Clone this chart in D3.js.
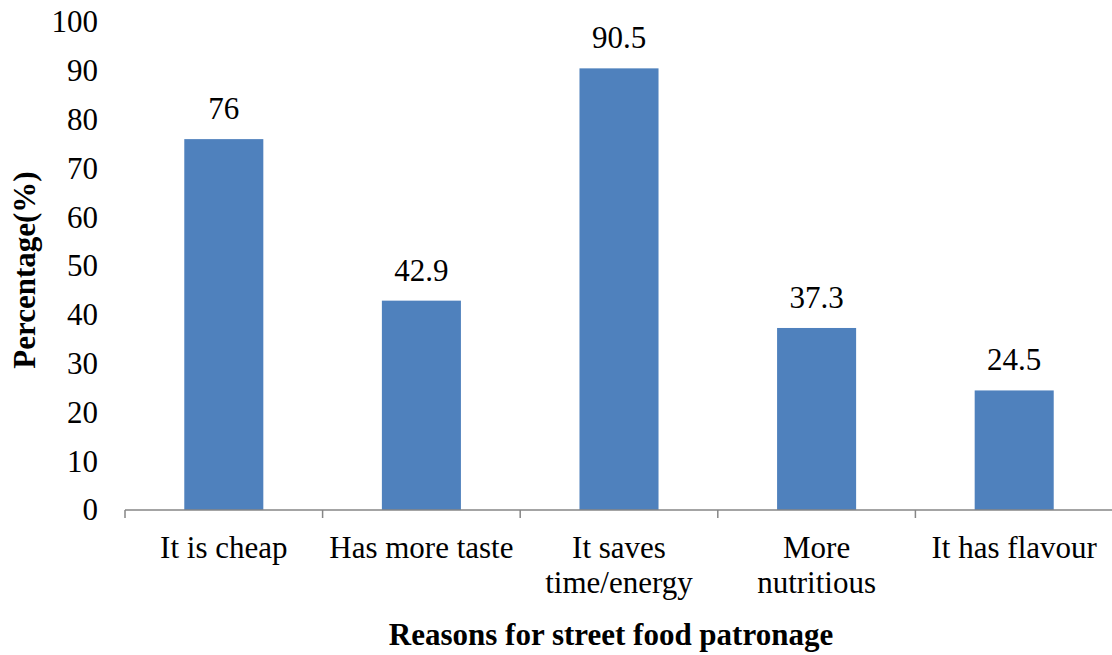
<!DOCTYPE html>
<html>
<head>
<meta charset="utf-8">
<script src="https://cdn.jsdelivr.net/npm/d3@7"></script>
<style>
  html, body { margin: 0; padding: 0; background: #fff; }
  svg { display: block; }
  text { font-family: "Liberation Serif", "Times New Roman", serif; fill: #000; }
</style>
</head>
<body>
<svg id="chart" width="1112" height="655"></svg>
<script>
// Reasons for street food patronage (percentage of respondents)
const categories = [
  ["It is cheap"],
  ["Has more taste"],
  ["It saves", "time/energy"],
  ["More", "nutritious"],
  ["It has flavour"]
];
const values = [76, 42.9, 90.5, 37.3, 24.5];
const yTicks = [0, 10, 20, 30, 40, 50, 60, 70, 80, 90, 100];

const svg = d3.select("#chart");
const FS = "31px";

const keys = categories.map(c => c.join(" "));
const x = d3.scaleBand()
  .domain(keys)
  .range([125, 1113])
  .paddingInner(0.6)
  .paddingOuter(0.3);
const y = d3.scaleLinear().domain([0, 100]).range([510, 22]);

// y tick labels (no axis line)
const yAxis = svg.append("g")
  .attr("transform", "translate(125,0)")
  .call(d3.axisLeft(y).tickValues(yTicks).tickSize(0).tickPadding(27));
yAxis.select(".domain").remove();
yAxis.selectAll("text")
  .style("font-size", FS)
  .style("font-family", "'Liberation Serif', serif");

// bars
svg.append("g").selectAll("rect")
  .data(values)
  .join("rect")
  .attr("x", (d, i) => x(keys[i]))
  .attr("width", x.bandwidth())
  .attr("y", d => y(d))
  .attr("height", d => y(0) - y(d))
  .attr("fill", "#4F81BD");

// value labels
svg.append("g").selectAll("text")
  .data(values)
  .join("text")
  .attr("x", (d, i) => x(keys[i]) + x.bandwidth() / 2)
  .attr("y", d => y(d) - 20)
  .attr("text-anchor", "middle")
  .style("font-size", FS)
  .text(d => d);

// x axis line with boundary ticks
const step = x.step();
const x0 = x(keys[0]) - x.paddingOuter() * step;
const bounds = d3.range(keys.length + 1).map(i => x0 + i * step);
const xg = svg.append("g");
xg.append("line")
  .attr("x1", x0).attr("x2", 1112)
  .attr("y1", y(0)).attr("y2", y(0))
  .attr("stroke", "#868686").attr("stroke-width", 1.5);
xg.selectAll("line.tick")
  .data(bounds)
  .join("line")
  .attr("class", "tick")
  .attr("x1", d => d).attr("x2", d => d)
  .attr("y1", y(0)).attr("y2", y(0) + 8)
  .attr("stroke", "#868686").attr("stroke-width", 1.5);

// category labels
const cl = svg.append("g").selectAll("text")
  .data(categories)
  .join("text")
  .attr("x", (d, i) => x(keys[i]) + x.bandwidth() / 2)
  .attr("y", 558)
  .attr("text-anchor", "middle")
  .style("font-size", FS);
cl.selectAll("tspan")
  .data(d => d)
  .join("tspan")
  .attr("x", function () { return d3.select(this.parentNode).attr("x"); })
  .attr("dy", (d, i) => i === 0 ? 0 : 35)
  .text(d => d);

// axis titles
svg.append("text")
  .attr("x", 611)
  .attr("y", 645)
  .attr("text-anchor", "middle")
  .style("font-size", FS)
  .style("font-weight", "bold")
  .text("Reasons for street food patronage");

svg.append("text")
  .attr("transform", "translate(35,270) rotate(-90)")
  .attr("text-anchor", "middle")
  .style("font-size", FS)
  .style("font-weight", "bold")
  .text("Percentage(%)");
</script>
</body>
</html>
